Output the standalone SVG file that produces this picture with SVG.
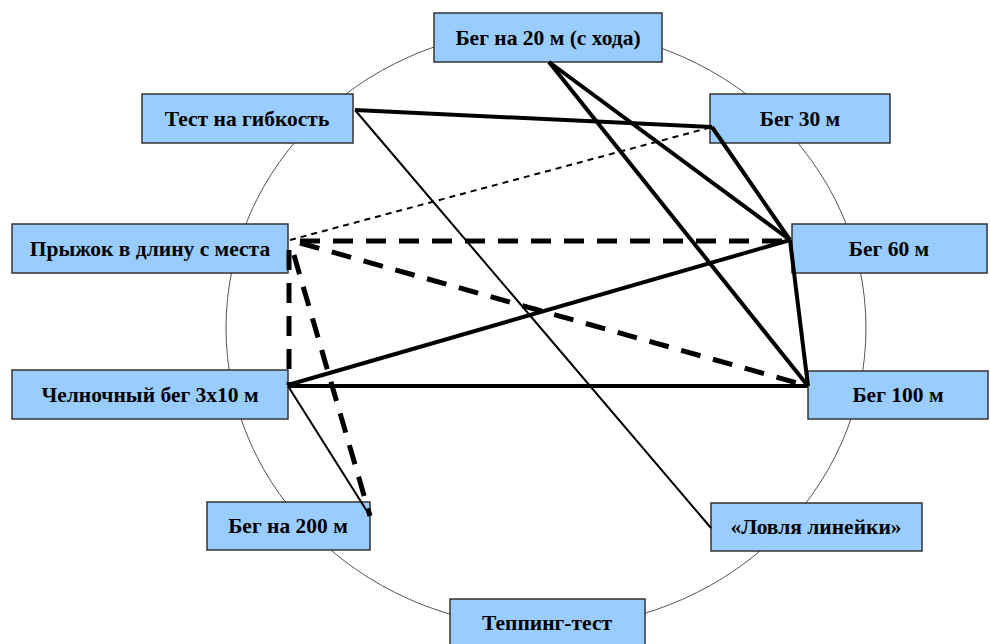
<svg xmlns="http://www.w3.org/2000/svg" width="990" height="644" viewBox="0 0 990 644">
<style>
.box{fill:#99ccff;stroke:#333;stroke-width:1.5}
.lbl{font-family:"Liberation Serif","DejaVu Serif",serif;font-weight:bold;font-size:21.5px;fill:#000;text-anchor:middle}
.ring{fill:none;stroke:#555;stroke-width:1}
.thick{stroke:#000;stroke-width:4;fill:none}
.thin{stroke:#000;stroke-width:2;fill:none}
.dthin{stroke:#000;stroke-width:2;stroke-dasharray:6 5;fill:none}
.dthick{stroke:#000;stroke-width:5;stroke-dasharray:20 13;fill:none}
</style>
<rect width="990" height="644" fill="#fff"/>
<ellipse class="ring" cx="546" cy="328" rx="320" ry="300"/>
<g id="n1"><rect class="box" x="434" y="13" width="228" height="49"/><text class="lbl" x="548" y="45">Бег на 20 м (с хода)</text></g>
<g id="n2"><rect class="box" x="142" y="94" width="211" height="49"/><text class="lbl" x="247" y="126">Тест на гибкость</text></g>
<g id="n3"><rect class="box" x="710" y="94" width="180" height="49"/><text class="lbl" x="800" y="126">Бег 30 м</text></g>
<g id="n4"><rect class="box" x="12" y="224" width="276" height="49"/><text class="lbl" x="150" y="256">Прыжок в длину с места</text></g>
<g id="n5"><rect class="box" x="792" y="224" width="195" height="49"/><text class="lbl" x="889" y="256">Бег 60 м</text></g>
<g id="n6"><rect class="box" x="12" y="370" width="276" height="49"/><text class="lbl" x="150" y="402">Челночный бег 3х10 м</text></g>
<g id="n7"><rect class="box" x="808" y="371" width="180" height="48"/><text class="lbl" x="898" y="402">Бег 100 м</text></g>
<g id="n8"><rect class="box" x="207" y="502" width="163" height="48"/><text class="lbl" x="288" y="533">Бег на 200 м</text></g>
<g id="n9"><rect class="box" x="711" y="503" width="211" height="48"/><text class="lbl" x="816" y="534">«Ловля линейки»</text></g>
<g id="n10"><rect class="box" x="450" y="599" width="195" height="50"/><text class="lbl" x="547" y="630">Теппинг-тест</text></g>
<g id="connectors">
<line class="thick" x1="355" y1="110" x2="712" y2="127"/>
<line class="thin" x1="355" y1="110" x2="711" y2="528"/>
<line class="thick" x1="549" y1="62" x2="790" y2="240"/>
<line class="thick" x1="549" y1="62" x2="808" y2="386"/>
<line class="thick" x1="712" y1="127" x2="790" y2="240"/>
<line class="dthin" x1="290" y1="240" x2="712" y2="127"/>
<line class="dthick" x1="300" y1="241" x2="790" y2="241"/>
<line class="dthick" x1="300" y1="243" x2="808" y2="386"/>
<line class="dthick" x1="289" y1="250" x2="289" y2="385"/>
<line class="dthick" x1="294" y1="255" x2="370" y2="516"/>
<line class="thick" x1="288" y1="385" x2="790" y2="240"/>
<line class="thick" x1="288" y1="386" x2="808" y2="386"/>
<line class="thin" x1="288" y1="386" x2="370" y2="516"/>
<line class="thick" x1="790" y1="240" x2="808" y2="386"/>
</g>
</svg>
